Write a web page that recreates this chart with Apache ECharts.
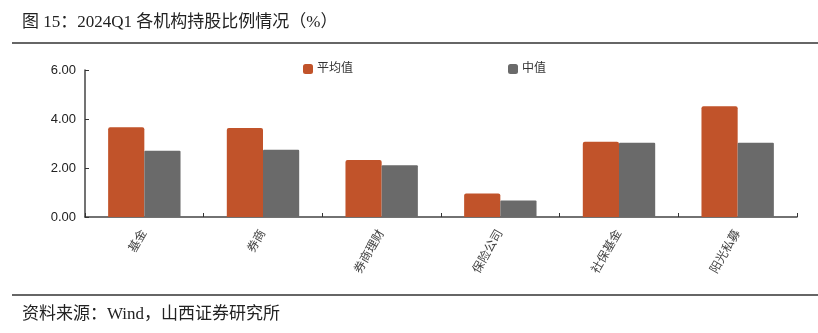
<!DOCTYPE html>
<html>
<head>
<meta charset="utf-8">
<script src="https://cdn.jsdelivr.net/npm/echarts@6/dist/echarts.min.js"></script>
<style>
  html, body { margin: 0; padding: 0; background: #fff; }
  #chart { width: 818px; height: 333px; }
</style>
</head>
<body>
<div id="chart"></div>
<script>
// Holding ratios by institution type, 2024Q1 (%)
const categories = ['基金', '券商', '券商理财', '保险公司', '社保基金', '阳光私募'];
const meanValues = [3.66, 3.63, 2.33, 0.96, 3.07, 4.52];
const medianValues = [2.70, 2.75, 2.11, 0.67, 3.03, 3.03];
const seriesNames = ['平均值', '中值'];
const titleText = '图 15：2024Q1 各机构持股比例情况（%）';
const sourceText = '资料来源：Wind，山西证券研究所';

const serif = '"Liberation Serif", "Times New Roman", "Noto Sans CJK SC", serif';
const sans = 'Arial, "Liberation Sans", "Noto Sans CJK SC", sans-serif';

const chart = echarts.init(document.getElementById('chart'));
chart.setOption({
  backgroundColor: '#fff',
  animation: false,
  color: ['#C1532A', '#6A6A6A'],
  grid: { left: 85, right: 21, top: 70, bottom: 116, containLabel: false },
  legend: {
    data: seriesNames,
    left: 298,
    top: 58,
    itemWidth: 10,
    itemHeight: 10,
    itemGap: 155,
    icon: 'roundRect',
    textStyle: { fontSize: 12, color: '#333', fontFamily: sans, padding: [0, 0, 0, -1] }
  },
  xAxis: {
    type: 'category',
    data: categories,
    axisLine: { lineStyle: { color: '#444', width: 1.5 } },
    axisTick: { show: true, inside: true, length: 4, lineStyle: { color: '#333' } },
    axisLabel: { rotate: 60, fontSize: 12, color: '#444', fontFamily: serif, margin: 14 },
    splitLine: { show: false }
  },
  yAxis: {
    type: 'value',
    min: 0,
    max: 6,
    interval: 2,
    axisLine: { show: true, lineStyle: { color: '#444', width: 1.5 } },
    axisTick: { show: true, inside: true, length: 4, lineStyle: { color: '#333' } },
    axisLabel: {
      fontSize: 13, color: '#222', fontFamily: sans, margin: 9,
      formatter: v => v.toFixed(2)
    },
    splitLine: { show: false }
  },
  series: [
    {
      name: seriesNames[0], type: 'bar', data: meanValues,
      barGap: '0%', barCategoryGap: '39%',
      itemStyle: { borderRadius: [2, 2, 0, 0] }
    },
    {
      name: seriesNames[1], type: 'bar', data: medianValues,
      barGap: '0%', barCategoryGap: '39%',
      itemStyle: { borderRadius: [1, 1, 0, 0] }
    }
  ],
  graphic: [
    {
      type: 'text', left: 22, top: 14,
      style: { text: titleText, fontSize: 17, fill: '#222', fontFamily: serif }
    },
    {
      type: 'line', shape: { x1: 12, y1: 43, x2: 818, y2: 43 },
      style: { stroke: '#333', lineWidth: 1.5 }
    },
    {
      type: 'line', shape: { x1: 12, y1: 295, x2: 818, y2: 295 },
      style: { stroke: '#333', lineWidth: 1.5 }
    },
    {
      type: 'text', left: 22, top: 306,
      style: { text: sourceText, fontSize: 17, fill: '#222', fontFamily: serif }
    }
  ]
});
</script>
</body>
</html>
